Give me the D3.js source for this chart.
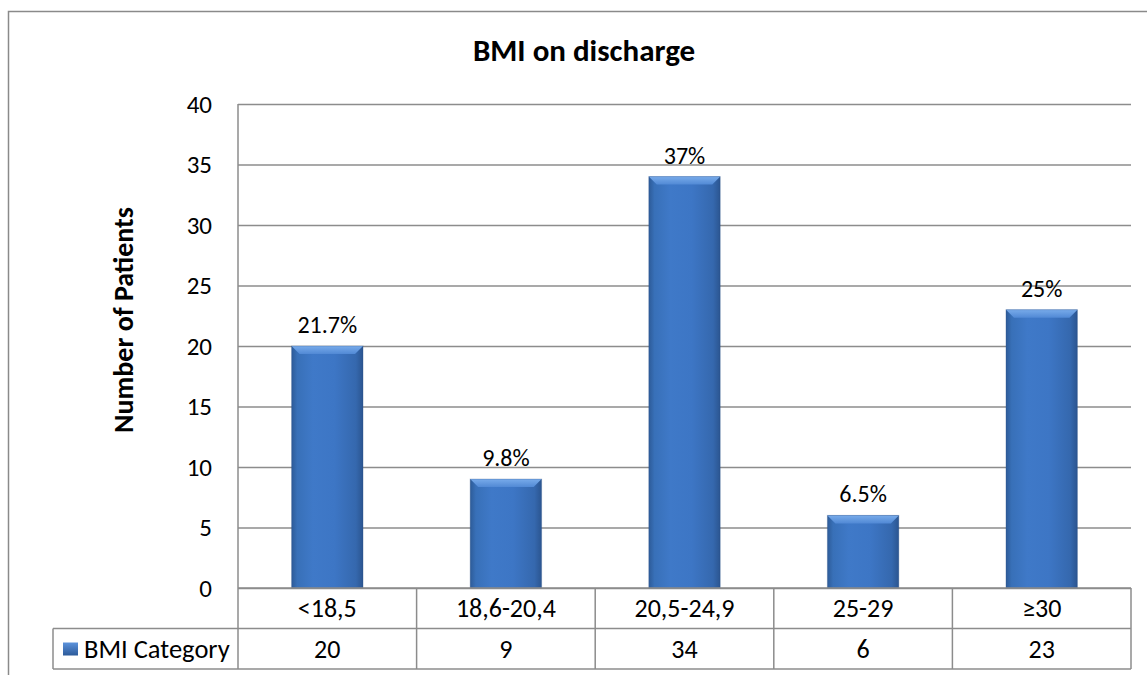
<!DOCTYPE html>
<html><head><meta charset="utf-8">
<script src="https://cdn.jsdelivr.net/npm/d3@7"></script>
<style>html,body{margin:0;padding:0;background:#fff;}svg{display:block;}</style>
</head><body>
<svg id="chart" width="1147" height="675"></svg>
<script>
const categories = ["<18,5", "18,6-20,4", "20,5-24,9", "25-29", "≥30"];
const values = [20, 9, 34, 6, 23];
const percentLabels = ["21.7%", "9.8%", "37%", "6.5%", "25%"];
const yTicks = [0, 5, 10, 15, 20, 25, 30, 35, 40];
const seriesName = "BMI Category";
const chartTitle = "BMI on discharge";
const yTitle = "Number of Patients";

const FONT = "Carlito, 'Liberation Sans', Arial, sans-serif";
const svg = d3.select("#chart");
const plot = {left: 238, right: 1131, top: 104, bottom: 588};
const rowH = 40.5;
const legendLeft = 53;
const gridColor = "#8c8c8c";

// outer border
svg.append("rect").attr("x", 8.5).attr("y", 11.5).attr("width", 1150).attr("height", 700)
  .attr("fill", "none").attr("stroke", "#8a8a8a").attr("stroke-width", 1.5);

const x = d3.scaleBand().domain(categories).range([plot.left, plot.right])
  .paddingInner(0.6).paddingOuter(0.3);
const step = x.step();
const y = d3.scaleLinear().domain([0, 40]).range([plot.bottom, plot.top]);

// defs
const defs = svg.append("defs");
const g1 = defs.append("linearGradient").attr("id", "barGrad").attr("x1", 0).attr("x2", 1).attr("y1", 0).attr("y2", 0);
[[0, "#2d5b98"], [0.08, "#3870b8"], [0.3, "#3f79c8"], [0.6, "#3d76c5"], [0.9, "#3568ae"], [1, "#2b5590"]]
  .forEach(([o, c]) => g1.append("stop").attr("offset", o).attr("stop-color", c));
const g2 = defs.append("linearGradient").attr("id", "bevelGrad").attr("x1", 0).attr("x2", 0).attr("y1", 0).attr("y2", 1);
g2.append("stop").attr("offset", 0).attr("stop-color", "#78abea");
g2.append("stop").attr("offset", 1).attr("stop-color", "#5189d5");
const g3 = defs.append("linearGradient").attr("id", "keyGrad").attr("x1", 0).attr("x2", 0).attr("y1", 0).attr("y2", 1);
g3.append("stop").attr("offset", 0).attr("stop-color", "#5d93dc");
g3.append("stop").attr("offset", 1).attr("stop-color", "#2c5a9a");

// gridlines
const yAxis = d3.axisLeft(y).tickValues(yTicks).tickSize(-(plot.right - plot.left)).tickPadding(26);
const ga = svg.append("g").attr("transform", `translate(${plot.left},0)`).call(yAxis);
ga.select(".domain").remove();
ga.selectAll(".tick line").attr("stroke", gridColor).attr("stroke-width", 1.5);
ga.selectAll(".tick text").attr("font-family", FONT).attr("font-size", 25).attr("fill", "#000");

// bars
const bars = svg.append("g");
categories.forEach((c, i) => {
  const bx = x(c), bw = x.bandwidth(), by = y(values[i]), bh = y(0) - y(values[i]);
  bars.append("rect").attr("x", bx).attr("y", by).attr("width", bw).attr("height", bh)
    .attr("fill", "url(#barGrad)");
  const bv = 8;
  bars.append("path")
    .attr("d", `M${bx},${by}L${bx + bw},${by}L${bx + bw - bv},${by + bv}L${bx + bv},${by + bv}Z`)
    .attr("fill", "url(#bevelGrad)");
  bars.append("rect").attr("x", bx).attr("y", by).attr("width", bw).attr("height", bh)
    .attr("fill", "none").attr("stroke", "#2a4f86").attr("stroke-opacity", 0.3).attr("stroke-width", 1);
  svg.append("text").attr("x", bx + bw / 2).attr("y", by - 13)
    .attr("text-anchor", "middle").attr("font-family", FONT).attr("font-size", 24)
    .attr("fill", "#000").text(percentLabels[i]);
});

// y axis line (runs through the table)
svg.append("line").attr("x1", plot.left).attr("x2", plot.left).attr("y1", plot.top).attr("y2", plot.bottom + 2 * rowH)
  .attr("stroke", gridColor).attr("stroke-width", 1.5);

// data table
const t = svg.append("g").attr("stroke", gridColor).attr("stroke-width", 1.5);
t.append("line").attr("x1", plot.left).attr("x2", plot.right).attr("y1", plot.bottom).attr("y2", plot.bottom);
t.append("line").attr("x1", legendLeft).attr("x2", plot.right).attr("y1", plot.bottom + rowH).attr("y2", plot.bottom + rowH);
t.append("line").attr("x1", legendLeft).attr("x2", plot.right).attr("y1", plot.bottom + 2 * rowH).attr("y2", plot.bottom + 2 * rowH);
t.append("line").attr("x1", legendLeft).attr("x2", legendLeft).attr("y1", plot.bottom + rowH).attr("y2", plot.bottom + 2 * rowH);
categories.forEach((c, i) => {
  const xr = x(c) - x.paddingOuter() * step + step;
  t.append("line").attr("x1", xr).attr("x2", xr).attr("y1", plot.bottom).attr("y2", plot.bottom + 2 * rowH);
});
const tt = svg.append("g").attr("font-family", FONT).attr("font-size", 26).attr("fill", "#000").attr("text-anchor", "middle");
categories.forEach((c, i) => {
  const cx = x(c) + x.bandwidth() / 2;
  tt.append("text").attr("x", cx).attr("y", plot.bottom + rowH / 2 + 9).text(c);
  tt.append("text").attr("x", cx).attr("y", plot.bottom + 1.5 * rowH + 9).text(values[i]);
});
// legend key
svg.append("rect").attr("x", 63).attr("y", plot.bottom + rowH + 14).attr("width", 15).attr("height", 13)
  .attr("fill", "url(#keyGrad)");
svg.append("text").attr("x", 84).attr("y", plot.bottom + 1.5 * rowH + 9)
  .attr("font-family", FONT).attr("font-size", 26.5).attr("fill", "#000").text(seriesName);

// titles
svg.append("text").attr("x", 584).attr("y", 61).attr("text-anchor", "middle")
  .attr("font-family", FONT).attr("font-size", 31).attr("font-weight", "bold").text(chartTitle);
svg.append("text").attr("transform", `translate(133,320) rotate(-90)`)
  .attr("text-anchor", "middle").attr("font-family", FONT).attr("font-size", 28).attr("font-weight", "bold").text(yTitle);
</script>
</body></html>
